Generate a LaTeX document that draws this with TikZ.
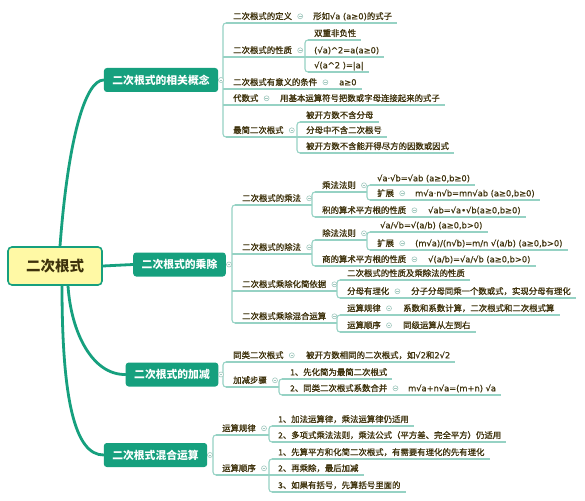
\documentclass[tikz,border=0pt]{standalone}
\usepackage{fontspec}
\setmainfont{Noto Sans CJK SC}
\newfontfamily\cjkm{Noto Sans CJK SC}[FakeBold=1.2]
\newfontfamily\lat{DejaVu Sans}[FakeBold=0.6]
\usetikzlibrary{calc}
\definecolor{mgreen}{RGB}{22,160,126}
\definecolor{rooty}{RGB}{255,249,165}
\definecolor{txt}{RGB}{62,50,12}
\definecolor{ulcol}{RGB}{150,210,196}
\definecolor{cgray}{RGB}{160,200,190}
\pgfdeclarelayer{bg}
\pgfsetlayers{bg,main}
\newcommand\brkt[3]{\draw[uline,rounded corners=3pt] ($(#1|-#2.south)+(6,0)$) -- (#1|-#2.south) -- (#1|-#3.south) -- ($(#1|-#3.south)+(6,0)$);}
\newcommand\uln[4]{\draw[uline] ($(#1|-#2.south)+(#3,0)$) -- #4;}
\newcommand\tend[1]{($(#1.south east)+(5,0)$)}
\newcommand\coll[1]{\node[cc] at ($(#1.east)+(8,0)$) {};}
\newcommand\fm[1]{{\lat\fontsize{8.3}{10}\selectfont #1}}
\begin{document}
\begin{tikzpicture}[x=1pt,y=-1pt,
  rootbox/.style={draw=mgreen,line width=1.6pt,fill=rooty,rounded corners=4pt,minimum width=94pt,minimum height=38pt,font=\fontsize{14.5}{16}\selectfont\bfseries,text=txt,inner sep=0pt},
  mainbox/.style={fill=mgreen,rounded corners=3pt,text=white,font=\fontsize{10.8}{12}\selectfont\bfseries,minimum height=24pt,inner xsep=8.5pt,inner ysep=0pt},
  tp/.style={anchor=south west,inner xsep=0pt,inner ysep=2.5pt,text height=7pt,text depth=1pt,font=\cjkm\fontsize{8.4}{10}\selectfont,text=txt},
  uline/.style={draw=ulcol,line width=1.1pt},
  trunk/.style={draw=mgreen,line width=2.8pt,line cap=round},
  cc/.style={circle,draw=cgray,fill=white,line width=0.6pt,minimum size=5pt,inner sep=0pt,
    path picture={\draw[cgray,line width=0.5pt] ([xshift=-1.3pt]path picture bounding box.center) -- ([xshift=1.3pt]path picture bounding box.center);}},
]
\begin{pgfonlayer}{bg}
\fill[white] (0,0) rectangle (585,500);
\end{pgfonlayer}
\useasboundingbox (0,0) rectangle (585,500);

% main nodes
\node[rootbox] (root) at (55,266) {二次根式};
\node[mainbox] (b1) at (161,80) {二次根式的相关概念};
\node[mainbox] (b2) at (179.5,264.5) {二次根式的乘除};
\node[mainbox] (b3) at (172,374.5) {二次根式的加减};
\node[mainbox] (b4) at (155.5,455) {二次根式混合运算};

\begin{pgfonlayer}{bg}
\draw[trunk] ($(root.north)+(5,0)$) .. controls (68,140) and (85,80) .. (b1.west);
\draw[trunk] (root.east) -- (b2.west);
\draw[trunk] ($(root.south)+(13,0)$) .. controls (71,332) and (92,375) .. (b3.west);
\draw[trunk] ($(root.south)+(7,0)$) .. controls (62,400) and (75,455) .. (b4.west);
\end{pgfonlayer}

% ---------- branch 1
\coordinate (k1) at (223,80);
\node[tp] (t11) at (233,23) {二次根式的定义};
\node[tp] (t11a) at (313,23) {形如\fm{√a (a≥0)}的式子};
\node[tp] (t12) at (233,57) {二次根式的性质};
\coordinate (k12) at (305,57);
\node[tp] (t121) at (314,40) {双重非负性};
\node[tp] (t122) at (314,57) {\fm{(√a)\textasciicircum2=a(a≥0)}};
\node[tp] (t123) at (314,72) {\fm{√(a\textasciicircum2 )=|a|}};
\node[tp] (t13) at (233,89) {二次根式有意义的条件};
\node[tp] (t13a) at (339,89) {\fm{a≥0}};
\node[tp] (t14) at (233,105) {代数式};
\node[tp] (t14a) at (280,105) {用基本运算符号把数或字母连接起来的式子};
\node[tp] (t15) at (233,137) {最简二次根式};
\coordinate (k15) at (297,137);
\node[tp] (t151) at (306,122) {被开方数不含分母};
\node[tp] (t152) at (306,137) {分母中不含二次根号};
\node[tp] (t153) at (306,153) {被开方数不含能开得尽方的因数或因式};

\begin{pgfonlayer}{bg}
\draw[uline] (b1.east) -- (k1);
\brkt{k1}{t11}{t15}
\uln{k1}{t11}{3}{\tend{t11a}}
\uln{k1}{t12}{0}{(k12|-t12.south)}
\uln{k1}{t13}{0}{\tend{t13a}}
\uln{k1}{t14}{0}{\tend{t14a}}
\uln{k1}{t15}{3}{(k15|-t15.south)}
\brkt{k12}{t121}{t123}
\uln{k12}{t121}{3}{\tend{t121}}
\uln{k12}{t122}{0}{\tend{t122}}
\uln{k12}{t123}{3}{\tend{t123}}
\brkt{k15}{t151}{t153}
\uln{k15}{t151}{3}{\tend{t151}}
\uln{k15}{t152}{0}{\tend{t152}}
\uln{k15}{t153}{3}{\tend{t153}}
\end{pgfonlayer}
\node[cc] at (221,80) {};
\coll{t11} \coll{t12} \coll{t13} \coll{t14} \coll{t15}

% ---------- branch 2
\coordinate (k2) at (232,264.5);
\node[tp] (t21) at (242,205) {二次根式的乘法};
\coordinate (k21) at (312,205);
\node[tp] (t211) at (322,192) {乘法法则};
\coordinate (k211) at (367,192);
\node[tp] (t2111) at (377,185) {\fm{√a·√b=√ab (a≥0,b≥0)}};
\node[tp] (t2112) at (377,200) {扩展};
\node[tp] (t2112a) at (415,200) {\fm{m√a·n√b=mn√ab (a≥0,b≥0)}};
\node[tp] (t212) at (322,217) {积的算术平方根的性质};
\node[tp] (t212a) at (428,217) {\fm{√ab=√a•√b(a≥0,b≥0)}};
\node[tp] (t22) at (242,254) {二次根式的除法};
\coordinate (k22) at (312,254);
\node[tp] (t221) at (322,240) {除法法则};
\coordinate (k221) at (367,240);
\node[tp] (t2211) at (380,232) {\fm{√a/√b=√(a/b) (a≥0,b>0)}};
\node[tp] (t2212) at (377,250) {扩展};
\node[tp] (t2212a) at (415,250) {\fm{(m√a)/(n√b)=m/n √(a/b) (a≥0,b>0)}};
\node[tp] (t222) at (322,266) {商的算术平方根的性质};
\node[tp] (t222a) at (428,266) {\fm{√(a/b)=√a/√b (a≥0,b>0)}};
\node[tp] (t23) at (242,291) {二次根式乘除化简依据};
\coordinate (k23) at (337,291);
\node[tp] (t231) at (347,280) {二次根式的性质及乘除法的性质};
\node[tp] (t232) at (347,298) {分母有理化};
\node[tp] (t232a) at (411,298) {分子分母同乘一个数或式，实现分母有理化};
\node[tp] (t24) at (242,323) {二次根式乘除混合运算};
\coordinate (k24) at (337,323);
\node[tp] (t241) at (347,315) {运算规律};
\node[tp] (t241a) at (403,315) {系数和系数计算，二次根式和二次根式算};
\node[tp] (t242) at (347,332) {运算顺序};
\node[tp] (t242a) at (403,332) {同级运算从左到右};

\begin{pgfonlayer}{bg}
\draw[uline] (b2.east) -- (k2);
\brkt{k2}{t21}{t24}
\uln{k2}{t21}{3}{(k21|-t21.south)}
\uln{k2}{t22}{0}{(k22|-t22.south)}
\uln{k2}{t23}{0}{(k23|-t23.south)}
\uln{k2}{t24}{3}{(k24|-t24.south)}
\brkt{k21}{t211}{t212}
\uln{k21}{t211}{3}{(k211|-t211.south)}
\uln{k21}{t212}{3}{\tend{t212a}}
\brkt{k211}{t2111}{t2112}
\uln{k211}{t2111}{3}{\tend{t2111}}
\uln{k211}{t2112}{3}{\tend{t2112a}}
\brkt{k22}{t221}{t222}
\uln{k22}{t221}{3}{(k221|-t221.south)}
\uln{k22}{t222}{3}{\tend{t222a}}
\brkt{k221}{t2211}{t2212}
\uln{k221}{t2211}{3}{\tend{t2211}}
\uln{k221}{t2212}{3}{\tend{t2212a}}
\brkt{k23}{t231}{t232}
\uln{k23}{t231}{3}{\tend{t231}}
\uln{k23}{t232}{3}{\tend{t232a}}
\brkt{k24}{t241}{t242}
\uln{k24}{t241}{3}{\tend{t241a}}
\uln{k24}{t242}{3}{\tend{t242a}}
\end{pgfonlayer}
\node[cc] at (229,264.5) {};
\coll{t21} \coll{t211} \coll{t2112} \coll{t212} \coll{t22} \coll{t221} \coll{t2212} \coll{t222}
\coll{t23} \coll{t232} \coll{t24} \coll{t241} \coll{t242}

% ---------- branch 3
\coordinate (k3) at (223,374.5);
\node[tp] (t31) at (233,362) {同类二次根式};
\node[tp] (t31a) at (306,362) {被开方数相同的二次根式，如\fm{√2}和\fm{2√2}};
\node[tp] (t32) at (233,387) {加减步骤};
\coordinate (k32) at (279,387);
\node[tp] (t321) at (290,379) {1、先化简为最简二次根式};
\node[tp] (t322) at (290,395) {2、同类二次根式系数合并};
\node[tp] (t322a) at (408,395) {\fm{m√a+n√a=(m+n) √a}};

\begin{pgfonlayer}{bg}
\draw[uline] (b3.east) -- (k3);
\brkt{k3}{t31}{t32}
\uln{k3}{t31}{3}{\tend{t31a}}
\uln{k3}{t32}{3}{(k32|-t32.south)}
\brkt{k32}{t321}{t322}
\uln{k32}{t321}{3}{\tend{t321}}
\uln{k32}{t322}{3}{\tend{t322a}}
\end{pgfonlayer}
\node[cc] at (221,374.5) {};
\coll{t31} \coll{t32} \coll{t322}

% ---------- branch 4
\coordinate (k4) at (213,455);
\node[tp] (t41) at (222,435) {运算规律};
\coordinate (k41) at (269,435);
\node[tp] (t411) at (278,426) {1、加法运算律，乘法运算律仍适用};
\node[tp] (t412) at (278,442) {2、多项式乘法法则，乘法公式（平方差、完全平方）仍适用};
\node[tp] (t42) at (222,475) {运算顺序};
\coordinate (k42) at (269,475);
\node[tp] (t421) at (278,459) {1、先算平方和化简二次根式，有需要有理化的先有理化};
\node[tp] (t422) at (278,475) {2、再乘除，最后加减};
\node[tp] (t423) at (278,492) {3、如果有括号，先算括号里面的};

\begin{pgfonlayer}{bg}
\draw[uline] (b4.east) -- (k4);
\brkt{k4}{t41}{t42}
\uln{k4}{t41}{3}{(k41|-t41.south)}
\uln{k4}{t42}{3}{(k42|-t42.south)}
\brkt{k41}{t411}{t412}
\uln{k41}{t411}{3}{\tend{t411}}
\uln{k41}{t412}{3}{\tend{t412}}
\brkt{k42}{t421}{t423}
\uln{k42}{t421}{3}{\tend{t421}}
\uln{k42}{t422}{0}{\tend{t422}}
\uln{k42}{t423}{3}{\tend{t423}}
\end{pgfonlayer}
\node[cc] at (210,455) {};
\coll{t41} \coll{t42}
\end{tikzpicture}
\end{document}
